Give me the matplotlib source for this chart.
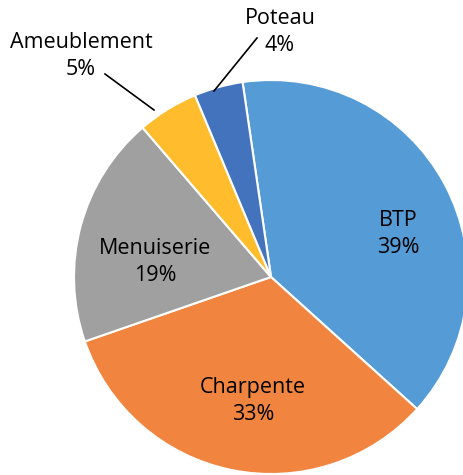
import matplotlib
matplotlib.use("Agg")
import matplotlib.pyplot as plt
import numpy as np

categories = ["BTP", "Charpente", "Menuiserie", "Ameublement", "Poteau"]
values = [39, 33, 19, 5, 4]
pct_labels = ["39%", "33%", "19%", "5%", "4%"]
colors = ["#559BD6", "#F18540", "#A0A0A0", "#FFBD2E", "#4473BE"]

W, H = 464, 475
CX, CY, R = 271, 277, 197  # pixel center/radius

plt.rcParams['font.family'] = ['Open Sans', 'DejaVu Sans']

fig = plt.figure(figsize=(W / 100, H / 100), dpi=100)
ax = fig.add_axes([0, 0, 1, 1])
ax.pie(values, colors=colors, startangle=98.3, counterclock=False,
       radius=1.0, wedgeprops=dict(edgecolor="white", linewidth=1.5))
ax.set_aspect('auto')
ax.set_xlim(-CX / R, (W - CX) / R)
ax.set_ylim(-(H - CY) / R, CY / R)
ax.axis('off')

def px(x, y):
    return (x - CX) / R, (CY - y) / R

label_pos = [(398, 234), (253, 401), (155, 262), (81, 56), (280, 32)]
fs = 15.5
for cat, pl, (lx, ly) in zip(categories, pct_labels, label_pos):
    x, y = px(lx, ly)
    ax.text(x, y, f"{cat}\n{pl}", ha="center", va="center", fontsize=fs,
            linespacing=1.42, color="black")

leaders = [((105, 74), (154, 110)), ((257, 38), (214, 91))]
for (x0, y0), (x1, y1) in leaders:
    a = px(x0, y0); b = px(x1, y1)
    ax.plot([a[0], b[0]], [a[1], b[1]], color="black", lw=1.2)

fig.savefig("out.png", dpi=100)
